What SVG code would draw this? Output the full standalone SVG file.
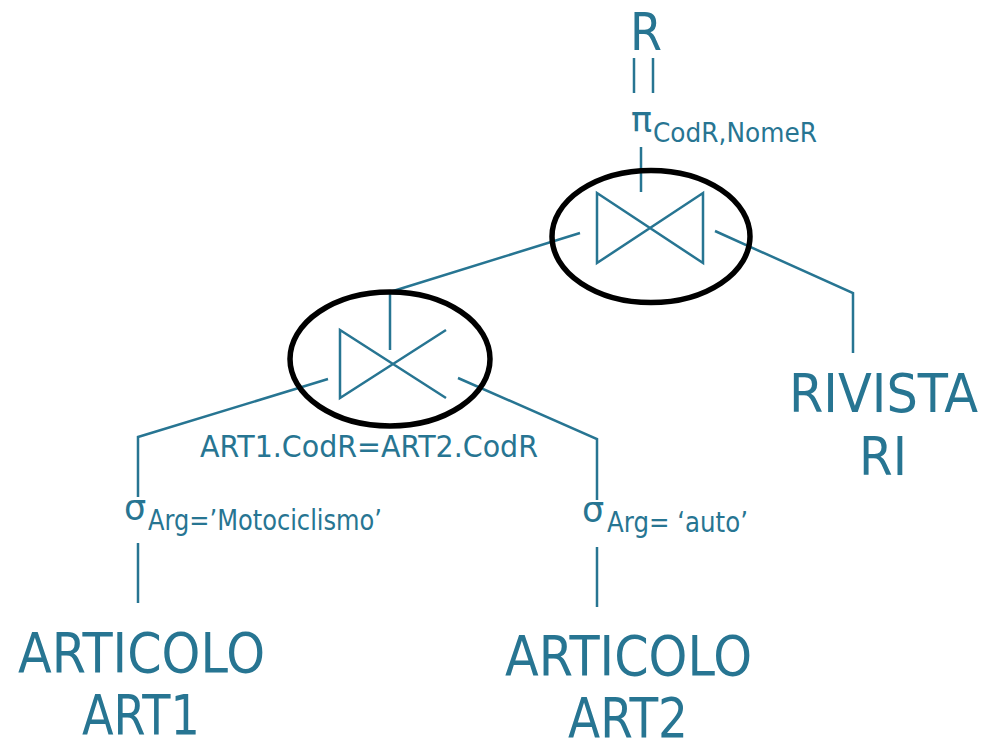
<svg xmlns="http://www.w3.org/2000/svg" width="984" height="738" viewBox="0 0 984 738">
<style>
.t{font-family:"DejaVu Sans","Liberation Sans",sans-serif;fill:#277592}
.ln{stroke:#277592;stroke-width:2.5;fill:none;stroke-linecap:butt;stroke-linejoin:miter}
.el{stroke:#000;stroke-width:5.5;fill:none}
</style>
<rect width="984" height="738" fill="#fff"/>
<g id="connectors">
<line class="ln" x1="634" y1="58" x2="634" y2="93"/>
<line class="ln" x1="653" y1="58" x2="653" y2="93"/>
<line class="ln" x1="641" y1="147" x2="641" y2="192"/>
<polyline class="ln" points="580,233 390,292 390,350"/>
<polyline class="ln" points="715,231 853,293 853,353"/>
<polyline class="ln" points="328,379 138,437 138,497"/>
<polyline class="ln" points="458,378 597,439 597,500"/>
<line class="ln" x1="138" y1="543" x2="138" y2="603"/>
<line class="ln" x1="597" y1="547" x2="597" y2="607"/>
</g>
<g id="result">
<text class="t" x="630" y="50" font-size="51" textLength="32" lengthAdjust="spacingAndGlyphs">R</text>
</g>
<g id="projection">
<text class="t" x="631" y="132" font-size="35">π</text>
<text class="t" x="653" y="142" font-size="26" textLength="164" lengthAdjust="spacingAndGlyphs">CodR,NomeR</text>
</g>
<g id="join1">
<path class="ln" d="M597,193 L703,263 L703,193 L597,263 Z"/>
<ellipse class="el" cx="651" cy="236.5" rx="99" ry="66"/>
</g>
<g id="join2">
<path class="ln" d="M446,330 L340,398 L340,330 L446,398"/>
<ellipse class="el" cx="390" cy="359" rx="100" ry="67"/>
<text class="t" x="200" y="457" font-size="30" textLength="338" lengthAdjust="spacingAndGlyphs">ART1.CodR=ART2.CodR</text>
</g>
<g id="select1">
<text class="t" x="124" y="520" font-size="35">σ</text>
<text class="t" x="148" y="530" font-size="27.5" textLength="234" lengthAdjust="spacingAndGlyphs">Arg=’Motociclismo’</text>
</g>
<g id="select2">
<text class="t" x="582" y="522" font-size="35">σ</text>
<text class="t" x="607" y="532" font-size="27.5" textLength="141" lengthAdjust="spacingAndGlyphs">Arg= ‘auto’</text>
</g>
<g id="articolo1">
<text class="t" x="18" y="672" font-size="55" textLength="247" lengthAdjust="spacingAndGlyphs">ARTICOLO</text>
<text class="t" x="82" y="734" font-size="55" textLength="118" lengthAdjust="spacingAndGlyphs">ART1</text>
</g>
<g id="articolo2">
<text class="t" x="505" y="675" font-size="55" textLength="247" lengthAdjust="spacingAndGlyphs">ARTICOLO</text>
<text class="t" x="568" y="737" font-size="55" textLength="120" lengthAdjust="spacingAndGlyphs">ART2</text>
</g>
<g id="rivista">
<text class="t" x="789" y="412" font-size="54" textLength="189" lengthAdjust="spacingAndGlyphs">RIVISTA</text>
<text class="t" x="859" y="475" font-size="54" textLength="48" lengthAdjust="spacingAndGlyphs">RI</text>
</g>
</svg>
